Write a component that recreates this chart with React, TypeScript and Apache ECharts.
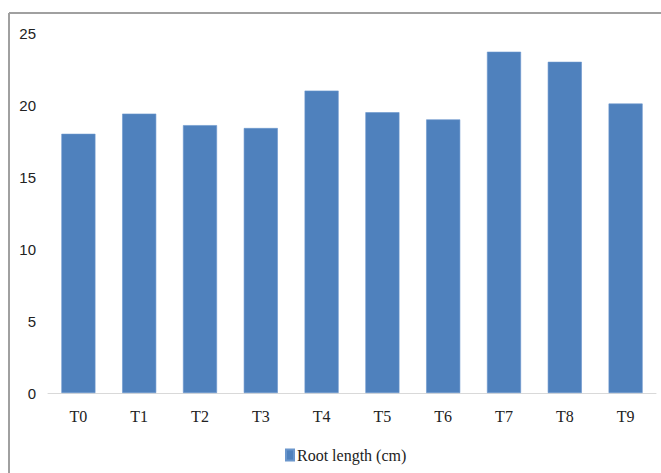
import React, { useEffect, useRef } from "react";
import * as echarts from "echarts";

// Treatments and their mean root length (cm)
const treatments = ["T0", "T1", "T2", "T3", "T4", "T5", "T6", "T7", "T8", "T9"];
const rootLength = [18.0, 19.4, 18.6, 18.4, 21.0, 19.5, 19.0, 23.7, 23.0, 20.1];
const seriesName = "Root length (cm)";

const yMin = 0;
const yMax = 25;
const yStep = 5;

export default function App() {
  const ref = useRef<HTMLDivElement>(null);

  useEffect(() => {
    if (!ref.current) return;
    const chart = echarts.init(ref.current, undefined, { renderer: "svg" });
    chart.setOption({
      animation: false,
      backgroundColor: "#ffffff",
      grid: { left: 48, right: 5, top: 33, bottom: 80, containLabel: false },
      graphic: [
        {
          type: "line",
          shape: { x1: 9, y1: 13, x2: 661, y2: 13 },
          style: { stroke: "#a0a0a0", lineWidth: 2 },
          silent: true,
        },
        {
          type: "line",
          shape: { x1: 9, y1: 13, x2: 9, y2: 473 },
          style: { stroke: "#a0a0a0", lineWidth: 2 },
          silent: true,
        },
      ],
      legend: {
        data: [seriesName],
        left: 280,
        top: 442,
        icon: "rect",
        itemWidth: 8,
        itemHeight: 11,
        itemGap: 10,
        textStyle: {
          fontFamily: "Liberation Serif, serif",
          fontSize: 16,
          color: "#222",
          padding: [0, 0, 0, -2],
        },
      },
      xAxis: {
        type: "category",
        data: treatments,
        axisLine: { lineStyle: { color: "#d9d9d9", width: 1 } },
        axisTick: { show: false },
        axisLabel: {
          margin: 15,
          fontFamily: "Liberation Serif, serif",
          fontSize: 16,
          color: "#222",
        },
      },
      yAxis: {
        type: "value",
        min: yMin,
        max: yMax,
        interval: yStep,
        axisLine: { show: false },
        axisTick: { show: false },
        splitLine: { show: false },
        axisLabel: {
          margin: 12,
          fontFamily: "Liberation Sans, sans-serif",
          fontSize: 15,
          color: "#222",
        },
      },
      series: [
        {
          name: seriesName,
          type: "bar",
          data: rootLength,
          barCategoryGap: "44%",
          itemStyle: { color: "#4f81bd", borderColor: "#6a96cc", borderWidth: 0.6 },
        },
      ],
    });
    return () => chart.dispose();
  }, []);

  return (
    <div
      ref={ref}
      style={{ position: "fixed", left: 0, top: 0, width: 661, height: 473 }}
    />
  );
}
